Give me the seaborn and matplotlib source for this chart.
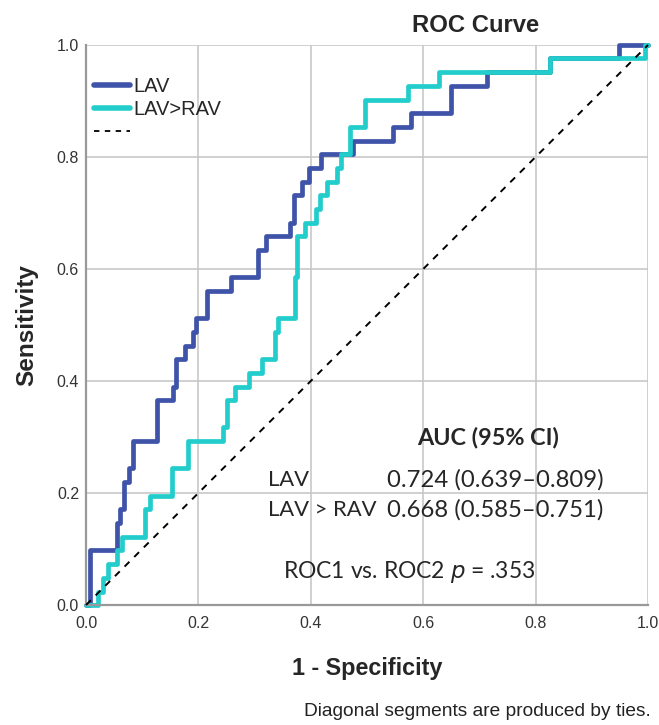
import matplotlib
matplotlib.use("Agg")
import matplotlib.pyplot as plt
from matplotlib.lines import Line2D
import seaborn as sns
import pandas as pd
import numpy as np

# ROC step points (steps-post: at fpr[i] the curve rises to tpr[i])
lav_fpr = [0, 0.007, 0.055, 0.061, 0.067, 0.077, 0.083, 0.126, 0.155, 0.161,
           0.176, 0.191, 0.196, 0.215, 0.258, 0.306, 0.321, 0.363, 0.370, 0.385,
           0.397, 0.419, 0.475, 0.546, 0.579, 0.650, 0.713, 0.825, 0.949, 1.0]
lav_tpr = [0, 0.098, 0.146, 0.171, 0.220, 0.244, 0.293, 0.366, 0.390, 0.439,
           0.463, 0.488, 0.512, 0.561, 0.585, 0.634, 0.659, 0.683, 0.732, 0.756,
           0.780, 0.805, 0.829, 0.854, 0.878, 0.927, 0.951, 0.976, 1.0, 1.0]

rav_fpr = [0, 0.022, 0.030, 0.040, 0.055, 0.064, 0.105, 0.113, 0.153, 0.182,
           0.244, 0.250, 0.265, 0.290, 0.313, 0.336, 0.342, 0.372, 0.376, 0.389,
           0.410, 0.416, 0.428, 0.446, 0.454, 0.469, 0.496, 0.573, 0.629, 0.825,
           0.994, 1.0]
rav_tpr = [0, 0.024, 0.049, 0.073, 0.098, 0.122, 0.171, 0.195, 0.244, 0.293,
           0.317, 0.366, 0.390, 0.415, 0.439, 0.488, 0.512, 0.585, 0.659, 0.683,
           0.707, 0.732, 0.756, 0.780, 0.805, 0.854, 0.902, 0.927, 0.951, 0.976,
           1.0, 1.0]

diag_x = [0, 1]
diag_y = [0, 1]

curve_names = ["LAV", "LAV>RAV"]
curve_colors = ["#3F54A8", "#22CDCB"]
ticks = [0.0, 0.2, 0.4, 0.6, 0.8, 1.0]

auc_rows = ["LAV", "LAV > RAV"]
auc_vals = ["0.724 (0.639\u20130.809)", "0.668 (0.585\u20130.751)"]
p_text = "ROC1 vs. ROC2 $\\it{p}$ = .353"

df = pd.concat([
    pd.DataFrame({"fpr": lav_fpr, "tpr": lav_tpr, "curve": curve_names[0]}),
    pd.DataFrame({"fpr": rav_fpr, "tpr": rav_tpr, "curve": curve_names[1]}),
], ignore_index=True)

sns.set_style("white")
plt.rcParams["font.family"] = ["Liberation Sans", "DejaVu Sans"]

fig = plt.figure(figsize=(6.59, 7.25), dpi=100)
ax = fig.add_axes([86 / 659, 1 - 605 / 725, 562 / 659, 560 / 725])

sns.lineplot(data=df, x="fpr", y="tpr", hue="curve", hue_order=curve_names,
             palette=curve_colors, estimator=None, sort=False,
             drawstyle="steps-post", linewidth=3.4, legend=False, ax=ax)
ax.plot(diag_x, diag_y, color="black", linestyle=(0, (3.5, 3.5)), linewidth=1.4, zorder=5)
for ln in ax.lines:
    ln.set_clip_on(False)

ax.set_xlim(0, 1)
ax.set_ylim(0, 1)
ax.set_xticks(ticks)
ax.set_yticks(ticks)
ax.set_xticklabels([f"{t:.1f}" for t in ticks])
ax.set_yticklabels([f"{t:.1f}" for t in ticks])
ax.tick_params(length=0, labelsize=11.5, labelcolor="#333333")
ax.tick_params(axis="x", pad=8)
ax.tick_params(axis="y", pad=5)
ax.grid(True, color="#c8c8c8", linewidth=1.2)
ax.set_axisbelow(True)
for s in ["top", "right"]:
    ax.spines[s].set_visible(False)
for s in ["left", "bottom"]:
    ax.spines[s].set_color("#999999")
    ax.spines[s].set_linewidth(1.6)

ax.set_xlabel("1 - Specificity", fontsize=16.8, fontweight="bold", va="center")
ax.xaxis.set_label_coords(0.5, -63 / 560)
ax.set_ylabel("Sensitivity", fontsize=17.5, fontweight="bold", va="center")
ax.yaxis.set_label_coords(-59 / 562, 0.5)

handles = [Line2D([], [], color=curve_colors[0], linewidth=4),
           Line2D([], [], color=curve_colors[1], linewidth=4),
           Line2D([], [], color="black", linestyle=(0, (3, 3)), linewidth=1.3)]
ax.legend(handles, curve_names + [""], loc="upper left", bbox_to_anchor=(0.0, 0.958),
          frameon=False, fontsize=14.5, handlelength=1.8, handletextpad=0.15,
          labelspacing=0.22, borderaxespad=0)

fig.text(476 / 659, 1 - 25 / 725, "ROC Curve", ha="center", va="center",
         fontsize=17.2, fontweight="bold")

# AUC table
tfont = ["Lato", "DejaVu Sans"]
ax.text(0.716, 0.299, "AUC (95% CI)", ha="center", va="center", fontsize=16.8,
        fontweight="bold", family=tfont)
for i, (name, val) in enumerate(zip(auc_rows, auc_vals)):
    y = 0.223 - i * 0.053
    ax.text(0.324, y, name, ha="left", va="center", fontsize=15.8, family=tfont)
    ax.text(0.535, y, val, ha="left", va="center", fontsize=17.2, family=tfont)
ax.text(0.350, 0.059, p_text, ha="left", va="center", fontsize=16.5, family=tfont)

fig.text(651 / 659, 1 - 712 / 725, "Diagonal segments are produced by ties.",
         ha="right", va="center", fontsize=13.8, color="#222222")

fig.savefig("out.png", dpi=100)
